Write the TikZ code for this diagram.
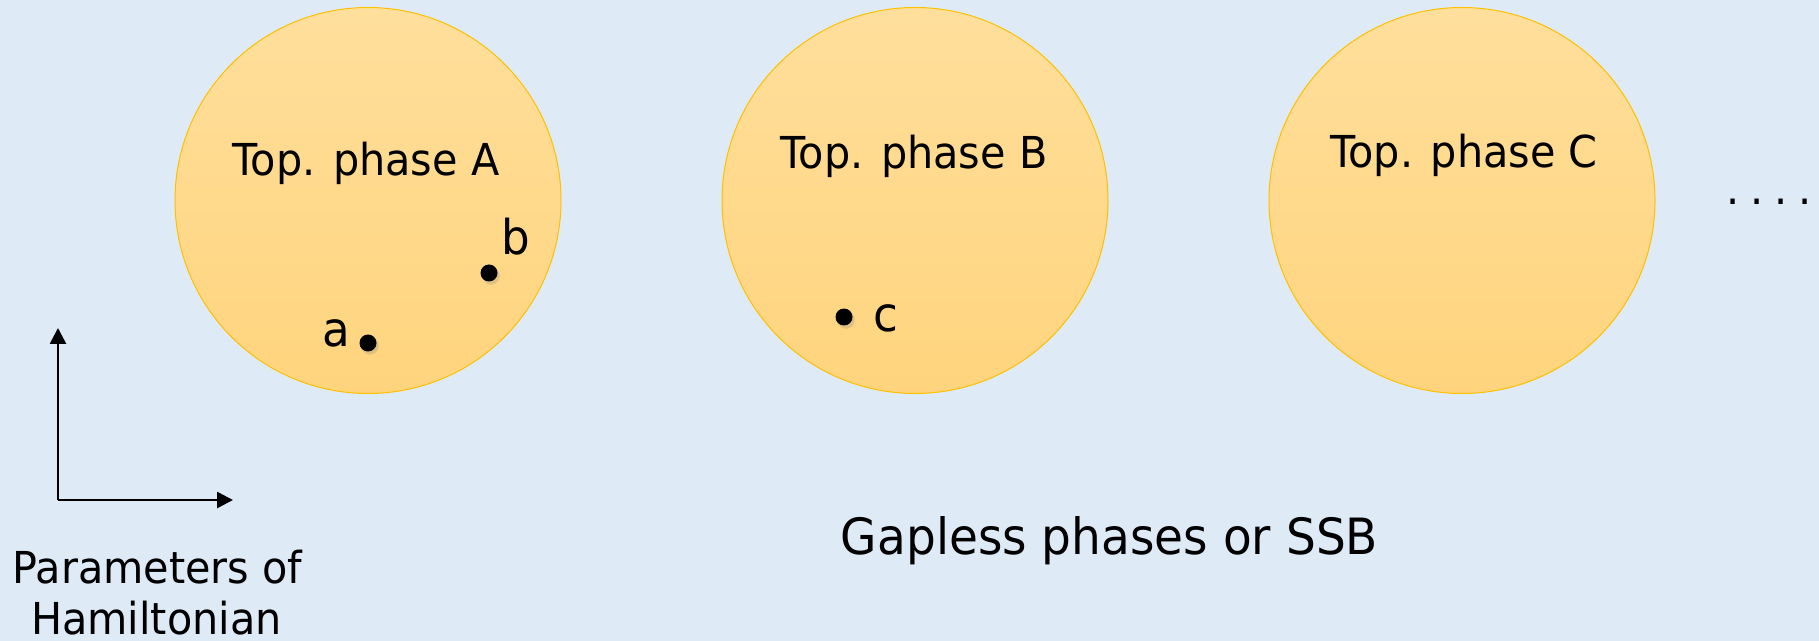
\documentclass[tikz,border=0pt]{standalone}
\usepackage{fontspec}
\setmainfont{DejaVu Sans}[FakeStretch=0.94]
\usetikzlibrary{arrows.meta,shadows}
\definecolor{bgblue}{RGB}{222,234,246}
\definecolor{phtop}{RGB}{255,223,156}
\definecolor{phbot}{RGB}{255,212,125}
\definecolor{phedge}{RGB}{255,192,0}
\tikzset{
  phase/.style={circle, minimum size=193pt, inner sep=0pt, draw=phedge, line width=0.5pt,
    top color=phtop, bottom color=phbot},
  txt/.style={anchor=base, inner sep=0pt, font=\fontsize{22pt}{26pt}\selectfont, text=black},
  bigtxt/.style={anchor=base, inner sep=0pt, font=\fontsize{25pt}{30pt}\selectfont, text=black},
  lbl/.style={anchor=base, inner sep=0pt, font=\fontsize{24pt}{28pt}\selectfont, text=black},
  pt/.style={circle, fill=black, minimum size=8.5pt, inner sep=0pt,
    circular drop shadow={shadow xshift=0.8pt, shadow yshift=-1.2pt, opacity=0.25, shadow scale=1.1}},
  axis/.style={line width=1.35pt, -{Triangle[length=8pt,width=8pt]}}
}
\begin{document}
\begin{tikzpicture}[x=0.5pt,y=-0.5pt]
\fill[bgblue] (0,0) rectangle (1819,641);
\useasboundingbox (0,0) rectangle (1819,641);
\node[phase] (A) at (368,200.5) {};
\node[phase] (B) at (915,200.5) {};
\node[phase] (C) at (1462,200.5) {};
\node[txt] (tA) at (366,176) {Top. phase A};
\node[txt] (tB) at (914,169) {Top. phase B};
\node[txt] (tC) at (1464,168) {Top. phase C};
\node[pt] (pa) at (368,343) {};
\node[pt] (pb) at (489,273) {};
\node[pt] (pc) at (844,317) {};
\node[lbl] (la) at (336,347) {a};
\node[lbl] (lb) at (515.5,255) {b};
\node[lbl] (lc) at (885.5,332) {c};
\node[txt] (dots) at (1769,205) {.\hspace{5.4pt}.\hspace{5.4pt}.\hspace{5.4pt}.};
\coordinate (O) at (58,500);
\coordinate (Y) at (58,328);
\coordinate (X) at (233,500);
\draw[axis] (O) -- (Y);
\draw[axis] (O) -- (X);
\node[txt] (par) at (157.5,583) {Parameters of};
\node[txt] (ham) at (156.5,634) {Hamiltonian};
\node[bigtxt] (gap) at (1109.5,554) {Gapless phases or SSB};
\end{tikzpicture}
\end{document}
